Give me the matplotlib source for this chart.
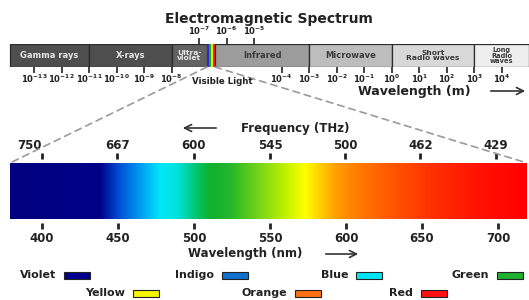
import numpy as np
import matplotlib
matplotlib.use('Agg')
import matplotlib.pyplot as plt
from matplotlib.patches import Rectangle, ConnectionPatch, FancyArrowPatch
from matplotlib.colors import to_rgb

plt.rcParams['font.family'] = ['DejaVu Sans']
plt.rcParams['font.weight'] = 'bold'
plt.rcParams['mathtext.default'] = 'bf'

# ---------------- data ----------------
band_names = ['Gamma rays', 'X-rays', 'Ultra-\nviolet', 'Infrared', 'Microwave',
              'Short\nRadio waves', 'Long\nRadio\nwaves']
band_lo = [-13.9, -11, -8, -6.43, -3, 0, 3]          # log10(wavelength / m)
band_hi = [-11, -8, -6.72, -3, 0, 3, 5.0]
band_fill = ['#4e4e4e', '#4e4e4e', '#626262', '#9c9c9c', '#bdbdbd', '#d8d8d8', '#eeeeee']
band_text = ['#e6e6e6', '#e6e6e6', '#e6e6e6', '#3a3a3a', '#3a3a3a', '#3a3a3a', '#3a3a3a']
visible_lo, visible_hi = -6.72, -6.43
visible_stripes = ['#2a2ad0', '#22a822', '#e8e800', '#e02020']

exp_ticks_below = [-13, -12, -11, -10, -9, -8, -4, -3, -2, -1, 0, 1, 2, 3, 4]
exp_ticks_above = [-7, -6, -5]

freq_thz = [750, 667, 600, 545, 500, 462, 429]
wl_nm_ticks = [400, 450, 500, 550, 600, 650, 700]
spectrum_nm = (378.9, 719.1)

grad_nm = [379, 438, 451, 464, 478, 489, 500, 510, 525, 532, 545, 560, 573, 593, 606, 624, 657, 690, 719]
grad_col = ['#000080', '#000088', '#0050d8', '#0098f0', '#00e8f8', '#00e2dc', '#00c878', '#10b030',
            '#28b82a', '#48c420', '#80d818', '#c0f000', '#ffff00', '#ffa000', '#ff8000', '#ff6000',
            '#ff3000', '#ff1000', '#ff0000']

legend_names = ['Violet', 'Indigo', 'Blue', 'Green', 'Yellow', 'Orange', 'Red']
legend_colors = ['#000090', '#1070d0', '#00e5f5', '#20b030', '#f5f500', '#ff7010', '#ff1010']

# ---------------- layout helpers ----------------
W, H = 529, 300
fig = plt.figure(figsize=(W / 100, H / 100), dpi=100)
def fx(px): return px / W
def fy(py): return 1 - py / H

TXT = '#222222'

# ---------------- EM spectrum bar ----------------
ax_em = fig.add_axes([0, fy(67), 1, 23 / H])
px0, pxs = 391.8, 27.5
ax_em.set_xlim(-px0 / pxs, (W - px0) / pxs)
ax_em.set_ylim(0, 1)
for s in ax_em.spines.values():
    s.set_visible(False)
ax_em.set_yticks([])
ax_em.set_xticks(exp_ticks_below, labels=[f'$10^{{{e}}}$' for e in exp_ticks_below])
ax_em.tick_params(axis='x', length=4, width=1.2, pad=0, labelsize=6.1, color=TXT, labelcolor=TXT)

sec_em = ax_em.secondary_xaxis('top')
sec_em.set_xticks(exp_ticks_above, labels=[f'$10^{{{e}}}$' for e in exp_ticks_above])
sec_em.tick_params(axis='x', length=4, width=1.2, pad=1, labelsize=6.1, color=TXT, labelcolor=TXT)
sec_em.spines['top'].set_visible(False)

for lo, hi, name, fc, tc in zip(band_lo, band_hi, band_names, band_fill, band_text):
    ax_em.add_patch(Rectangle((lo, 0), hi - lo, 1, fc=fc, ec='#2a2a2a', lw=0.9))
    nl = name.count('\n')
    fs = 6 if nl == 0 else (5.4 if nl == 1 else 4.8)
    ax_em.text((lo + hi) / 2, 0.5, name, ha='center', va='center', fontsize=fs,
               color=tc, linespacing=0.9)

sw = (visible_hi - visible_lo) / len(visible_stripes)
for i, c in enumerate(visible_stripes):
    ax_em.add_patch(Rectangle((visible_lo + i * sw, 0), sw, 1, fc=c, ec='none'))

# ---------------- visible spectrum ----------------
ax_vis = fig.add_axes([fx(10), fy(219), 517 / W, 56 / H])
ax_vis.set_xlim(*spectrum_nm)
ax_vis.set_ylim(0, 1)
xs = np.linspace(spectrum_nm[0], spectrum_nm[1], 800)
rgb = np.array([to_rgb(c) for c in grad_col])
img = np.stack([np.interp(xs, grad_nm, rgb[:, k]) for k in range(3)], axis=-1)[None, :, :]
ax_vis.imshow(img, extent=(spectrum_nm[0], spectrum_nm[1], 0, 1), aspect='auto', interpolation='bilinear')
for s in ax_vis.spines.values():
    s.set_visible(False)
ax_vis.spines['bottom'].set_position(('outward', 3))
ax_vis.set_yticks([])
ax_vis.set_xticks(wl_nm_ticks, labels=[str(v) for v in wl_nm_ticks])
ax_vis.tick_params(axis='x', length=4, width=2, pad=2.5, labelsize=8.5, color=TXT, labelcolor=TXT)

def nm_thz(x):
    x = np.asarray(x, float)
    with np.errstate(divide='ignore'):
        return 299792.458 / x

sec_vis = ax_vis.secondary_xaxis('top', functions=(nm_thz, nm_thz))
sec_vis.set_xticks(freq_thz, labels=[str(f) for f in freq_thz])
sec_vis.tick_params(axis='x', length=4, width=2, pad=1, labelsize=8.5, color=TXT, labelcolor=TXT)
sec_vis.spines['top'].set_visible(False)
sec_vis.spines['top'].set_position(('outward', 3))
sec_vis.get_xticklabels()[0].set_horizontalalignment('right')

# dashed zoom lines
for xa, xb in [(visible_lo, 0), (visible_hi, 1)]:
    cp = ConnectionPatch(xyA=(xa, 0), coordsA=ax_em.transData, xyB=(xb, 1), coordsB=ax_vis.transAxes,
                         color='#9a9a9a', lw=1.2, ls=(0, (4, 3)))
    fig.add_artist(cp)

# ---------------- texts ----------------
fig.text(fx(269), fy(19), 'Electromagnetic Spectrum', ha='center', va='center', fontsize=10, color=TXT)
fig.text(fx(222), fy(82), 'Visible Light', ha='center', va='center', fontsize=6.2, color=TXT)
fig.text(fx(414), fy(91), 'Wavelength (m)', ha='center', va='center', fontsize=9, color=TXT)
fig.text(fx(295), fy(128), 'Frequency (THz)', ha='center', va='center', fontsize=8.5, color=TXT)
fig.text(fx(245), fy(254), 'Wavelength (nm)', ha='center', va='center', fontsize=8.5, color=TXT)

def arrow(x0, x1, y):
    fig.add_artist(FancyArrowPatch((fx(x0), fy(y)), (fx(x1), fy(y)), transform=fig.transFigure,
                                   arrowstyle='->,head_length=0.5,head_width=0.25', mutation_scale=10,
                                   lw=1.2, color='#333333'))
arrow(488, 528, 91)
arrow(219, 180, 128)
arrow(323, 361, 254)

# ---------------- legend ----------------
legend_patch_x = [64, 222, 356, 497, 133, 295, 421]
legend_row_y = [275, 275, 275, 275, 293, 293, 293]
for name, col, px, py in zip(legend_names, legend_colors, legend_patch_x, legend_row_y):
    fig.add_artist(Rectangle((fx(px), fy(py + 3.5)), 26 / W, 7 / H, transform=fig.transFigure,
                             fc=col, ec='#222222', lw=0.8))
    fig.text(fx(px - 8), fy(py), name, ha='right', va='center', fontsize=8, color=TXT)

fig.savefig('out.png', dpi=100)
